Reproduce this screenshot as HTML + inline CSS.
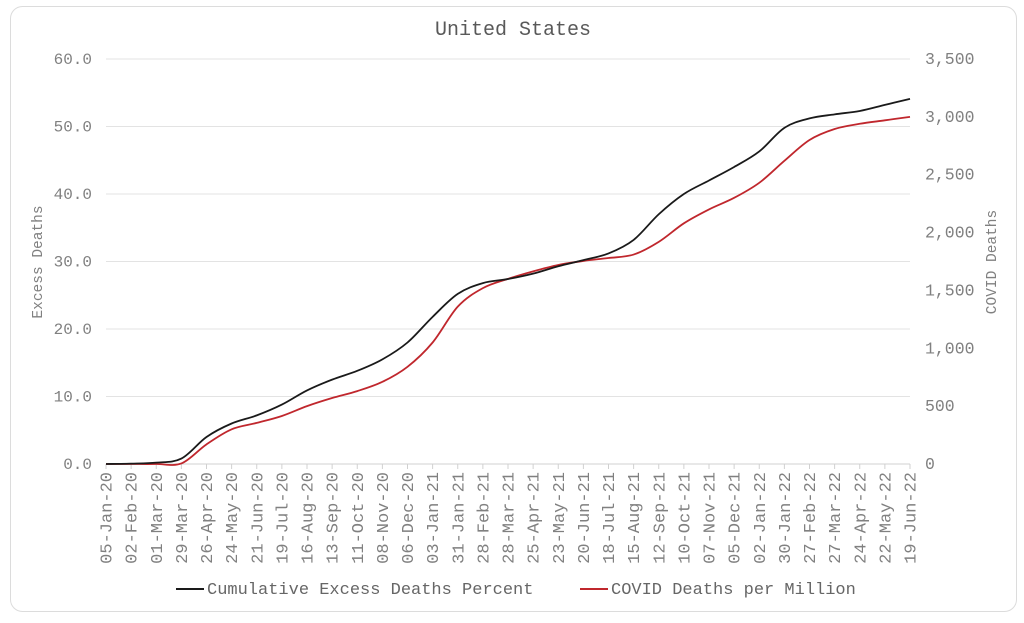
<!DOCTYPE html>
<html><head><meta charset="utf-8"><style>
body{margin:0;background:#fff;width:1024px;height:618px;overflow:hidden}
svg text{font-family:"Liberation Mono",monospace;fill:#808080}
</style></head><body>
<svg id="chart" width="1024" height="618">
<rect x="10.5" y="6.5" width="1006" height="605" rx="12" fill="#fff" stroke="#dcdcdc"/>
<text x="513" y="35" text-anchor="middle" font-size="20" style="fill:#595959">United States</text>
<text transform="translate(42,262) rotate(-90)" text-anchor="middle" font-size="14.5">Excess Deaths</text>
<text transform="translate(996,262) rotate(-90)" text-anchor="middle" font-size="14.5">COVID Deaths</text>
<g id="grid"></g><g id="xaxis"></g><g id="series"></g>
<g>
<line x1="176" y1="589" x2="204" y2="589" stroke="#1a1a1a" stroke-width="2"/>
<text x="207" y="594" font-size="17" style="fill:#666">Cumulative Excess Deaths Percent</text>
<line x1="580" y1="589" x2="608" y2="589" stroke="#c0272d" stroke-width="2"/>
<text x="611" y="594" font-size="17" style="fill:#666">COVID Deaths per Million</text>
</g>
</svg>
<script>
const categories=["05-Jan-20","02-Feb-20","01-Mar-20","29-Mar-20","26-Apr-20","24-May-20","21-Jun-20","19-Jul-20","16-Aug-20","13-Sep-20","11-Oct-20","08-Nov-20","06-Dec-20","03-Jan-21","31-Jan-21","28-Feb-21","28-Mar-21","25-Apr-21","23-May-21","20-Jun-21","18-Jul-21","15-Aug-21","12-Sep-21","10-Oct-21","07-Nov-21","05-Dec-21","02-Jan-22","30-Jan-22","27-Feb-22","27-Mar-22","24-Apr-22","22-May-22","19-Jun-22"];
const excessValues=[0,0.05,0.2,0.8,4.0,6.0,7.2,8.8,10.9,12.5,13.8,15.5,18.0,21.8,25.2,26.8,27.4,28.2,29.3,30.2,31.2,33.2,37.0,40.0,42.0,44.0,46.3,49.8,51.2,51.8,52.3,53.2,54.1];
const covidValues=[0,0,0,5,170,300,355,415,500,570,630,710,840,1050,1360,1520,1600,1665,1720,1755,1780,1810,1920,2080,2200,2300,2430,2620,2800,2895,2940,2970,3000];
const leftTicks=[0,10,20,30,40,50,60];
const rightTicks=["0","500","1,000","1,500","2,000","2,500","3,000","3,500"];
const rightTickValues=[0,500,1000,1500,2000,2500,3000,3500];
const NS="http://www.w3.org/2000/svg";
const X0=106,X1=910,Y0=464,Y1=59;
const xs=i=>X0+(X1-X0)*i/(categories.length-1);
const yl=v=>Y0-(Y0-Y1)*v/60;
const yr=v=>Y0-(Y0-Y1)*v/3500;
function mk(tag,attrs,parent){const e=document.createElementNS(NS,tag);for(const k in attrs)e.setAttribute(k,attrs[k]);parent.appendChild(e);return e;}
const grid=document.getElementById('grid');
leftTicks.forEach(v=>{
 const l=mk('line',{x1:X0,x2:X1,y1:yl(v),y2:yl(v),stroke:v===0?'#d0d0d0':'#e3e3e3'},grid);
 
 
 const t=mk('text',{x:92,y:yl(v)+5,'text-anchor':'end','font-size':16},grid);
 t.textContent=v.toFixed(1);
 
 
});
rightTickValues.forEach((v,i)=>{
 const t=mk('text',{x:925,y:yr(v)+5,'font-size':16.5},grid);
 t.textContent=rightTicks[i];
 
 
});
const xa=document.getElementById('xaxis');
categories.forEach((c,i)=>{
 const x=xs(i);
 const tk=mk('line',{x1:x,x2:x,y1:Y0,y2:Y0+5,stroke:'#d0d0d0'},xa);
 
 
 const t=mk('text',{transform:`translate(${x+5.5},472) rotate(-90)`,'text-anchor':'end','font-size':17},xa);
 t.textContent=c;
 
 
});
function smooth(pts){let d=`M${pts[0][0]},${pts[0][1]}`;for(let i=0;i<pts.length-1;i++){const p0=pts[Math.max(0,i-1)],p1=pts[i],p2=pts[i+1],p3=pts[Math.min(pts.length-1,i+2)];const c1=[p1[0]+(p2[0]-p0[0])/6,p1[1]+(p2[1]-p0[1])/6],c2=[p2[0]-(p3[0]-p1[0])/6,p2[1]-(p3[1]-p1[1])/6];d+=`C${c1[0]},${c1[1]} ${c2[0]},${c2[1]} ${p2[0]},${p2[1]}`;}return d;}
const sg=document.getElementById('series');
const pr=mk('path',{d:smooth(covidValues.map((v,i)=>[xs(i),yr(v)])),fill:'none',stroke:'#c0272d','stroke-width':1.8},sg);


const pb=mk('path',{d:smooth(excessValues.map((v,i)=>[xs(i),yl(v)])),fill:'none',stroke:'#1a1a1a','stroke-width':1.8},sg);


</script>
</body></html>
